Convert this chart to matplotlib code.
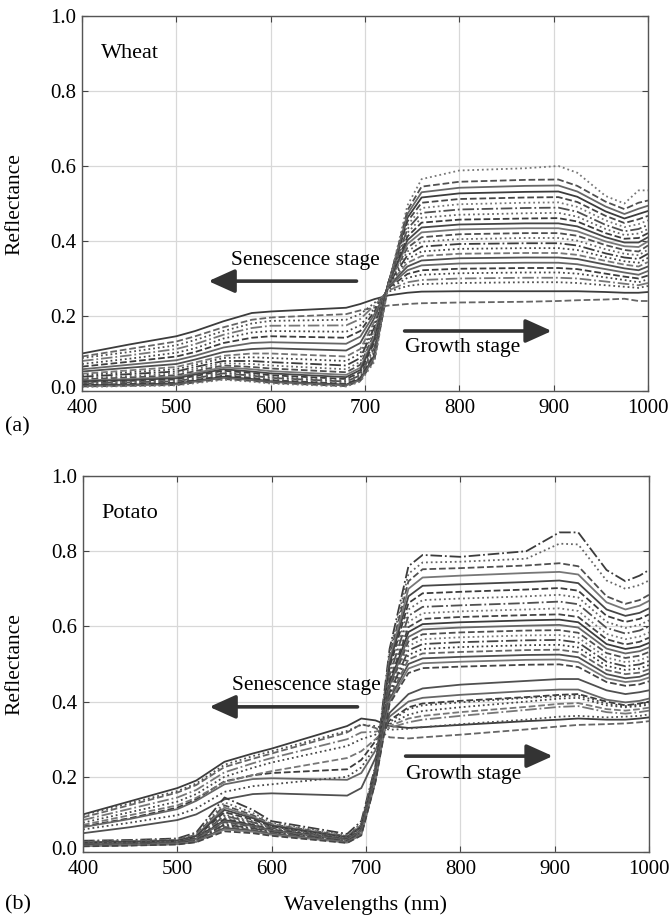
import matplotlib
matplotlib.use('Agg')
import matplotlib.pyplot as plt
from matplotlib.transforms import ScaledTranslation

plt.rcParams['font.family'] = ['Liberation Serif', 'DejaVu Serif']

# knot wavelengths (nm), visible part and red-edge / NIR part
wl_vis = [400, 450, 500, 520, 550, 580, 600, 680, 695]
wl_nir = [710, 725, 745, 760, 800, 870, 905, 925, 955, 975, 990, 1000]

# wheat spectra
wheat_vis = [
    [0.100, 0.124, 0.146, 0.160, 0.186, 0.208, 0.212, 0.222, 0.232],
    [0.092, 0.112, 0.132, 0.146, 0.170, 0.190, 0.196, 0.205, 0.215],
    [0.088, 0.104, 0.122, 0.136, 0.160, 0.180, 0.187, 0.190, 0.205],
    [0.080, 0.095, 0.112, 0.125, 0.150, 0.168, 0.174, 0.175, 0.192],
    [0.072, 0.086, 0.102, 0.114, 0.140, 0.156, 0.160, 0.158, 0.175],
    [0.065, 0.078, 0.092, 0.104, 0.128, 0.142, 0.146, 0.142, 0.160],
    [0.058, 0.070, 0.082, 0.094, 0.116, 0.128, 0.130, 0.126, 0.145],
    [0.052, 0.062, 0.072, 0.084, 0.104, 0.112, 0.114, 0.108, 0.128],
    [0.046, 0.055, 0.064, 0.076, 0.094, 0.100, 0.100, 0.092, 0.112],
    [0.042, 0.050, 0.058, 0.070, 0.088, 0.090, 0.088, 0.080, 0.100],
    [0.038, 0.045, 0.052, 0.064, 0.080, 0.080, 0.077, 0.068, 0.088],
    [0.034, 0.040, 0.047, 0.058, 0.074, 0.072, 0.068, 0.058, 0.078],
    [0.031, 0.036, 0.042, 0.053, 0.068, 0.064, 0.060, 0.050, 0.070],
    [0.028, 0.032, 0.038, 0.048, 0.063, 0.058, 0.053, 0.043, 0.062],
    [0.026, 0.029, 0.034, 0.044, 0.058, 0.052, 0.047, 0.037, 0.056],
    [0.024, 0.027, 0.031, 0.040, 0.054, 0.048, 0.042, 0.032, 0.050],
    [0.022, 0.025, 0.028, 0.037, 0.050, 0.044, 0.038, 0.028, 0.046],
    [0.020, 0.023, 0.026, 0.034, 0.047, 0.041, 0.035, 0.025, 0.042],
    [0.018, 0.021, 0.024, 0.031, 0.044, 0.038, 0.032, 0.022, 0.038],
    [0.016, 0.019, 0.022, 0.029, 0.041, 0.035, 0.029, 0.019, 0.035],
    [0.015, 0.017, 0.020, 0.027, 0.038, 0.032, 0.026, 0.017, 0.032],
    [0.013, 0.015, 0.018, 0.025, 0.035, 0.029, 0.024, 0.015, 0.029],
    [0.012, 0.014, 0.016, 0.023, 0.032, 0.027, 0.022, 0.013, 0.027],
    [0.011, 0.013, 0.015, 0.021, 0.030, 0.025, 0.020, 0.012, 0.025],
]
wheat_nir = [
    [0.245, 0.255, 0.262, 0.265, 0.266, 0.266, 0.266, 0.266, 0.264, 0.262, 0.262, 0.264],
    [0.222, 0.228, 0.232, 0.234, 0.236, 0.238, 0.240, 0.242, 0.244, 0.246, 0.240, 0.240],
    [0.235, 0.265, 0.280, 0.285, 0.288, 0.290, 0.290, 0.288, 0.282, 0.278, 0.275, 0.280],
    [0.228, 0.268, 0.290, 0.296, 0.300, 0.302, 0.302, 0.300, 0.292, 0.286, 0.282, 0.288],
    [0.220, 0.272, 0.302, 0.310, 0.314, 0.316, 0.316, 0.313, 0.303, 0.296, 0.290, 0.298],
    [0.212, 0.275, 0.312, 0.322, 0.326, 0.328, 0.328, 0.325, 0.313, 0.305, 0.300, 0.308],
    [0.205, 0.278, 0.322, 0.335, 0.340, 0.342, 0.342, 0.338, 0.325, 0.316, 0.310, 0.320],
    [0.195, 0.280, 0.332, 0.348, 0.354, 0.356, 0.356, 0.352, 0.337, 0.327, 0.322, 0.332],
    [0.185, 0.282, 0.342, 0.360, 0.366, 0.368, 0.368, 0.363, 0.347, 0.337, 0.332, 0.344],
    [0.178, 0.284, 0.352, 0.372, 0.379, 0.381, 0.381, 0.376, 0.357, 0.346, 0.342, 0.355],
    [0.170, 0.286, 0.362, 0.385, 0.392, 0.394, 0.394, 0.388, 0.367, 0.356, 0.352, 0.366],
    [0.162, 0.288, 0.372, 0.398, 0.405, 0.408, 0.408, 0.401, 0.378, 0.366, 0.362, 0.377],
    [0.154, 0.290, 0.382, 0.410, 0.418, 0.421, 0.421, 0.414, 0.389, 0.376, 0.372, 0.388],
    [0.146, 0.290, 0.392, 0.423, 0.431, 0.434, 0.434, 0.426, 0.399, 0.386, 0.384, 0.399],
    [0.138, 0.290, 0.402, 0.436, 0.444, 0.447, 0.447, 0.439, 0.410, 0.396, 0.396, 0.410],
    [0.130, 0.290, 0.412, 0.449, 0.457, 0.460, 0.461, 0.452, 0.421, 0.406, 0.408, 0.421],
    [0.122, 0.290, 0.422, 0.462, 0.470, 0.474, 0.475, 0.465, 0.432, 0.416, 0.420, 0.432],
    [0.115, 0.290, 0.432, 0.475, 0.484, 0.488, 0.489, 0.478, 0.443, 0.426, 0.432, 0.443],
    [0.108, 0.290, 0.442, 0.488, 0.498, 0.502, 0.503, 0.491, 0.455, 0.437, 0.445, 0.455],
    [0.101, 0.290, 0.452, 0.502, 0.512, 0.516, 0.517, 0.504, 0.467, 0.448, 0.458, 0.467],
    [0.095, 0.290, 0.462, 0.516, 0.527, 0.531, 0.532, 0.518, 0.479, 0.460, 0.472, 0.480],
    [0.089, 0.288, 0.472, 0.530, 0.542, 0.547, 0.548, 0.532, 0.492, 0.472, 0.486, 0.494],
    [0.083, 0.286, 0.482, 0.545, 0.558, 0.563, 0.564, 0.547, 0.505, 0.485, 0.502, 0.508],
    [0.078, 0.284, 0.495, 0.565, 0.588, 0.594, 0.600, 0.582, 0.520, 0.500, 0.535, 0.535],
]

# potato spectra
potato_vis = [
    [0.100, 0.135, 0.170, 0.190, 0.240, 0.262, 0.275, 0.335, 0.355],
    [0.092, 0.125, 0.158, 0.178, 0.226, 0.248, 0.262, 0.318, 0.340],
    [0.098, 0.130, 0.162, 0.182, 0.232, 0.255, 0.268, 0.322, 0.338],
    [0.085, 0.115, 0.145, 0.165, 0.212, 0.236, 0.250, 0.300, 0.318],
    [0.078, 0.106, 0.134, 0.154, 0.200, 0.224, 0.238, 0.282, 0.300],
    [0.068, 0.090, 0.118, 0.140, 0.188, 0.204, 0.210, 0.220, 0.245],
    [0.066, 0.088, 0.114, 0.136, 0.180, 0.194, 0.196, 0.192, 0.210],
    [0.050, 0.066, 0.085, 0.100, 0.140, 0.154, 0.156, 0.150, 0.170],
    [0.072, 0.098, 0.124, 0.144, 0.186, 0.205, 0.215, 0.250, 0.268],
    [0.060, 0.078, 0.098, 0.116, 0.160, 0.175, 0.180, 0.200, 0.225],
    [0.030, 0.032, 0.036, 0.052, 0.145, 0.112, 0.082, 0.048, 0.082],
    [0.028, 0.030, 0.034, 0.048, 0.132, 0.104, 0.078, 0.044, 0.076],
    [0.027, 0.029, 0.032, 0.046, 0.124, 0.098, 0.074, 0.042, 0.072],
    [0.026, 0.028, 0.031, 0.044, 0.118, 0.094, 0.072, 0.040, 0.070],
    [0.025, 0.027, 0.030, 0.042, 0.112, 0.090, 0.070, 0.039, 0.068],
    [0.024, 0.026, 0.029, 0.040, 0.106, 0.086, 0.068, 0.038, 0.066],
    [0.023, 0.025, 0.028, 0.039, 0.100, 0.082, 0.066, 0.037, 0.064],
    [0.022, 0.024, 0.027, 0.038, 0.096, 0.079, 0.064, 0.036, 0.062],
    [0.022, 0.023, 0.026, 0.037, 0.092, 0.076, 0.062, 0.035, 0.060],
    [0.021, 0.022, 0.025, 0.036, 0.088, 0.073, 0.060, 0.034, 0.058],
    [0.020, 0.022, 0.025, 0.035, 0.085, 0.071, 0.058, 0.033, 0.057],
    [0.020, 0.021, 0.024, 0.034, 0.082, 0.069, 0.057, 0.032, 0.056],
    [0.019, 0.021, 0.024, 0.033, 0.079, 0.067, 0.055, 0.031, 0.054],
    [0.019, 0.020, 0.023, 0.032, 0.076, 0.065, 0.054, 0.030, 0.053],
    [0.018, 0.020, 0.023, 0.031, 0.073, 0.063, 0.053, 0.029, 0.052],
    [0.018, 0.019, 0.022, 0.030, 0.070, 0.061, 0.051, 0.028, 0.050],
    [0.017, 0.019, 0.022, 0.029, 0.067, 0.059, 0.050, 0.027, 0.049],
    [0.017, 0.018, 0.021, 0.028, 0.064, 0.057, 0.048, 0.026, 0.048],
    [0.016, 0.018, 0.021, 0.027, 0.060, 0.054, 0.046, 0.025, 0.046],
    [0.015, 0.017, 0.020, 0.026, 0.055, 0.050, 0.043, 0.024, 0.044],
]
potato_nir = [
    [0.350, 0.335, 0.330, 0.332, 0.338, 0.348, 0.352, 0.355, 0.352, 0.352, 0.355, 0.358],
    [0.330, 0.305, 0.302, 0.305, 0.312, 0.326, 0.334, 0.338, 0.340, 0.342, 0.345, 0.348],
    [0.335, 0.325, 0.328, 0.332, 0.340, 0.352, 0.360, 0.362, 0.358, 0.360, 0.362, 0.366],
    [0.320, 0.330, 0.345, 0.352, 0.362, 0.378, 0.386, 0.388, 0.372, 0.368, 0.372, 0.376],
    [0.312, 0.340, 0.365, 0.375, 0.385, 0.400, 0.408, 0.410, 0.390, 0.385, 0.388, 0.392],
    [0.295, 0.350, 0.385, 0.395, 0.402, 0.412, 0.418, 0.420, 0.400, 0.390, 0.395, 0.400],
    [0.270, 0.360, 0.400, 0.410, 0.418, 0.428, 0.432, 0.432, 0.405, 0.398, 0.402, 0.408],
    [0.250, 0.370, 0.420, 0.435, 0.445, 0.455, 0.460, 0.460, 0.430, 0.420, 0.425, 0.430],
    [0.300, 0.335, 0.355, 0.362, 0.372, 0.386, 0.394, 0.396, 0.380, 0.376, 0.380, 0.384],
    [0.280, 0.345, 0.380, 0.390, 0.398, 0.410, 0.414, 0.416, 0.395, 0.388, 0.392, 0.396],
    [0.230, 0.540, 0.760, 0.790, 0.785, 0.800, 0.850, 0.850, 0.750, 0.720, 0.735, 0.750],
    [0.225, 0.530, 0.740, 0.770, 0.772, 0.780, 0.820, 0.818, 0.722, 0.700, 0.710, 0.722],
    [0.222, 0.520, 0.720, 0.752, 0.755, 0.762, 0.768, 0.760, 0.680, 0.660, 0.670, 0.684],
    [0.220, 0.510, 0.700, 0.730, 0.735, 0.742, 0.745, 0.738, 0.664, 0.645, 0.655, 0.668],
    [0.218, 0.500, 0.680, 0.708, 0.712, 0.718, 0.722, 0.715, 0.645, 0.628, 0.636, 0.648],
    [0.215, 0.490, 0.662, 0.688, 0.692, 0.698, 0.702, 0.695, 0.628, 0.612, 0.620, 0.632],
    [0.212, 0.480, 0.645, 0.670, 0.674, 0.680, 0.684, 0.677, 0.612, 0.596, 0.604, 0.616],
    [0.210, 0.470, 0.628, 0.652, 0.656, 0.662, 0.666, 0.659, 0.596, 0.581, 0.589, 0.600],
    [0.208, 0.462, 0.612, 0.635, 0.640, 0.645, 0.648, 0.641, 0.580, 0.566, 0.573, 0.584],
    [0.206, 0.455, 0.598, 0.620, 0.625, 0.630, 0.632, 0.625, 0.566, 0.552, 0.559, 0.570],
    [0.204, 0.448, 0.585, 0.606, 0.611, 0.616, 0.618, 0.611, 0.553, 0.540, 0.546, 0.556],
    [0.202, 0.442, 0.572, 0.592, 0.597, 0.602, 0.604, 0.597, 0.541, 0.528, 0.534, 0.544],
    [0.200, 0.436, 0.560, 0.579, 0.584, 0.589, 0.590, 0.583, 0.529, 0.516, 0.522, 0.532],
    [0.198, 0.430, 0.548, 0.566, 0.571, 0.576, 0.577, 0.570, 0.517, 0.505, 0.510, 0.520],
    [0.196, 0.424, 0.536, 0.553, 0.558, 0.563, 0.564, 0.557, 0.506, 0.494, 0.499, 0.508],
    [0.194, 0.418, 0.524, 0.540, 0.545, 0.550, 0.551, 0.544, 0.495, 0.484, 0.488, 0.497],
    [0.192, 0.412, 0.512, 0.528, 0.532, 0.537, 0.538, 0.531, 0.484, 0.473, 0.477, 0.486],
    [0.190, 0.406, 0.500, 0.515, 0.519, 0.524, 0.525, 0.518, 0.473, 0.462, 0.466, 0.475],
    [0.188, 0.400, 0.488, 0.502, 0.506, 0.511, 0.512, 0.505, 0.462, 0.452, 0.456, 0.464],
    [0.186, 0.394, 0.476, 0.489, 0.493, 0.498, 0.499, 0.492, 0.452, 0.442, 0.446, 0.454],
]

x_ticks = [400, 500, 600, 700, 800, 900, 1000]
y_ticks = [0.0, 0.2, 0.4, 0.6, 0.8, 1.0]

line_styles = ['-', '--', ':', '-.', ':', '--', '-']
line_greys = ['#3c3c3c', '#666666', '#505050', '#777777', '#464646']


def draw_panel(ax, vis, nir, crop, sen_text_y, sen_arrow_y, grow_arrow_y, grow_text_y):

    wl = wl_vis + wl_nir

    for i in range(len(vis)):
        ax.plot(
            wl,
            vis[i] + nir[i],
            linestyle=line_styles[i % len(line_styles)],
            color=line_greys[i % len(line_greys)],
            linewidth=1.3
        )

    ax.set_xlim(400, 1000)
    ax.set_ylim(0, 1)
    ax.set_xticks(x_ticks)
    ax.set_yticks(y_ticks)
    ax.set_yticklabels([f'{v:.1f}' for v in y_ticks])
    ax.grid(color='#d8d8d8', linewidth=0.9)
    ax.set_axisbelow(True)
    ax.tick_params(direction='in', top=True, right=True, length=4,
                   labelsize=15, color='#444444')
    ax.tick_params(axis='y', pad=4)
    ax.tick_params(axis='x', pad=6)
    for sp in ax.spines.values():
        sp.set_color('#555555')
        sp.set_linewidth(1.0)

    # lift the 0.0 label a little so it sits just above the 400 label
    zero_label = ax.get_yticklabels()[0]
    zero_label.set_transform(zero_label.get_transform()
                             + ScaledTranslation(0, 3 / 72, fig.dpi_scale_trans))

    ax.text(420, 0.9, crop, fontsize=16, va='center', ha='left')

    ax.text(558, sen_text_y, 'Senescence stage', fontsize=15.5,
            va='center', ha='left')
    ax.annotate('', xy=(534, sen_arrow_y), xytext=(691, sen_arrow_y),
                arrowprops=dict(arrowstyle='-|>,head_length=1.0,head_width=0.45',
                                lw=2.6, color='#333333', mutation_scale=16,
                                shrinkA=0, shrinkB=0))

    ax.annotate('', xy=(898, grow_arrow_y), xytext=(742, grow_arrow_y),
                arrowprops=dict(arrowstyle='-|>,head_length=1.0,head_width=0.45',
                                lw=2.6, color='#333333', mutation_scale=16,
                                shrinkA=0, shrinkB=0))
    ax.text(742, grow_text_y, 'Growth stage', fontsize=15.5,
            va='center', ha='left')


fig = plt.figure(figsize=(6.69, 9.21), dpi=100)

ax_a = fig.add_axes([82 / 669, 1 - 391 / 921, 566 / 669, 375 / 921])
ax_b = fig.add_axes([83 / 669, 1 - 852 / 921, 566 / 669, 376 / 921])

draw_panel(ax_a, wheat_vis, wheat_nir, 'Wheat', 0.349, 0.293, 0.160, 0.117)
draw_panel(ax_b, potato_vis, potato_nir, 'Potato', 0.444, 0.386, 0.255, 0.205)

fig.text(15 / 669, 1 - 204 / 921, 'Reflectance', fontsize=15.5,
         rotation=90, va='center', ha='center')
fig.text(15 / 669, 1 - 664 / 921, 'Reflectance', fontsize=15.5,
         rotation=90, va='center', ha='center')
fig.text(366 / 669, 1 - 905 / 921, 'Wavelengths (nm)', fontsize=16,
         va='center', ha='center')

fig.text(5 / 669, 1 - 427 / 921, '(a)', fontsize=16, va='center', ha='left')
fig.text(5 / 669, 1 - 905 / 921, '(b)', fontsize=16, va='center', ha='left')

plt.savefig('out.png', dpi=100)
